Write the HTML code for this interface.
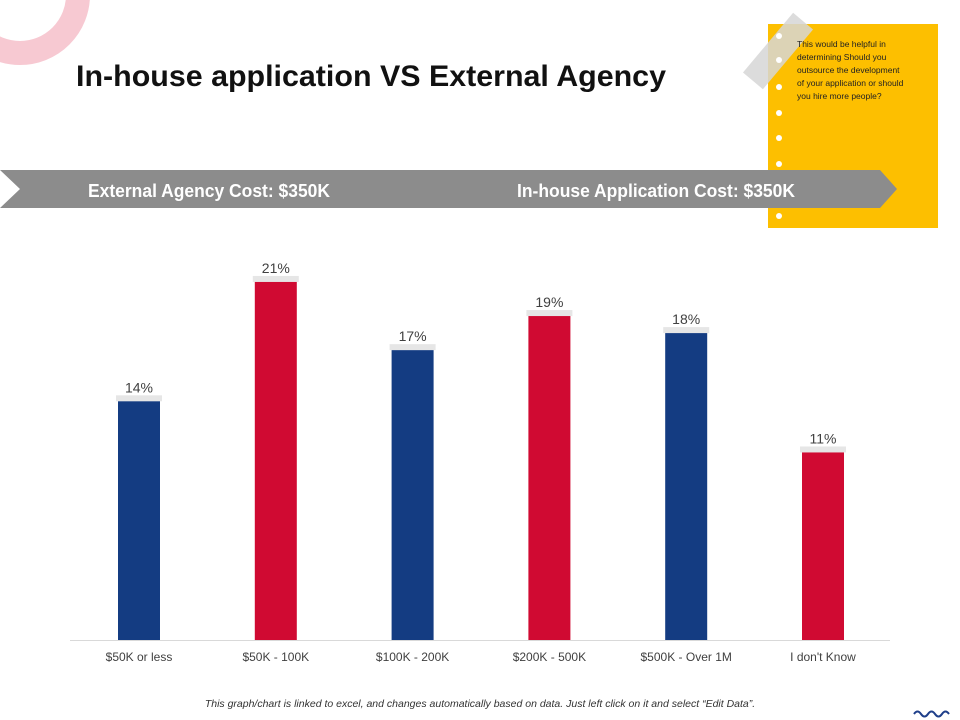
<!DOCTYPE html>
<html><head><meta charset="utf-8"><style>
body{margin:0;width:960px;height:720px;background:#fff;position:relative;overflow:hidden;font-family:"Liberation Sans",sans-serif}
</style></head><body>
<svg width="960" height="720" style="position:absolute;left:0;top:0">
<circle cx="20" cy="-5" r="58" fill="none" stroke="#f7c9d2" stroke-width="24"/>
<text x="76" y="86" font-size="30" font-weight="bold" fill="#111" textLength="590" lengthAdjust="spacingAndGlyphs">In-house application VS External Agency</text>
<g>
<rect x="768" y="24" width="170" height="204" fill="#fdbf00"/>
<rect x="765" y="12" width="26" height="78" fill="#d6d6d6" opacity="0.85" transform="rotate(40 778 51)"/>
<g fill="#fff"><circle cx="779" cy="36" r="3"/><circle cx="779" cy="60" r="3"/><circle cx="779" cy="87" r="3"/><circle cx="779" cy="113" r="3"/><circle cx="779" cy="138" r="3"/><circle cx="779" cy="164" r="3"/><circle cx="779" cy="216" r="3"/></g>
<text font-size="8.5" fill="#222">
<tspan x="797" y="47">This would be helpful in</tspan>
<tspan x="797" y="60">determining Should you</tspan>
<tspan x="797" y="73">outsource the development</tspan>
<tspan x="797" y="86">of your application or should</tspan>
<tspan x="797" y="99">you hire more people?</tspan></text>
</g>
<polygon points="0,170 880,170 897,189 880,208 0,208 20,189" fill="#8c8c8c"/>
<text x="88" y="197" font-size="18" font-weight="bold" fill="#fff" textLength="242" lengthAdjust="spacingAndGlyphs">External Agency Cost: $350K</text>
<text x="517" y="197" font-size="18" font-weight="bold" fill="#fff" textLength="278" lengthAdjust="spacingAndGlyphs">In-house Application Cost: $350K</text>
<line x1="70" y1="640.5" x2="890" y2="640.5" stroke="#d9d9d9"/>
<g id="bars"></g>
<text x="480" y="707" font-size="10.5" font-style="italic" fill="#333" text-anchor="middle">This graph/chart is linked to excel, and changes automatically based on data. Just left click on it and select “Edit Data”.</text>
<path d="M914 714 q3.5 -5 7 0 t7 0 t7 0 t7 0 t7 0" fill="none" stroke="#1f3f8a" stroke-width="2"/>
</svg>
<script>
const categories=["$50K or less","$50K - 100K","$100K - 200K","$200K - 500K","$500K - Over 1M","I don't Know"];
const values=[14,21,17,19,18,11];
const valueLabels=["14%","21%","17%","19%","18%","11%"];
const colors=["#143c82","#d00a32"];
const NS="http://www.w3.org/2000/svg";
const g=document.getElementById('bars');
function xPos(i){return 139+i*136.8;}
function yPos(v){return 640-v*17.05;}
values.forEach((v,i)=>{
 const cx=xPos(i),y=yPos(v);
 const sh=document.createElementNS(NS,'rect');
 sh.setAttribute('x',cx-23);sh.setAttribute('y',y-6);sh.setAttribute('width',46);sh.setAttribute('height',6);sh.setAttribute('fill','#e6e6e6');
 
 
 g.appendChild(sh);
 const r=document.createElementNS(NS,'rect');
 r.setAttribute('x',cx-21);r.setAttribute('y',y);r.setAttribute('width',42);r.setAttribute('height',640-y);r.setAttribute('fill',colors[i%2]);
 
 
 g.appendChild(r);
 const t=document.createElementNS(NS,'text');
 t.setAttribute('x',cx);t.setAttribute('y',y-9);t.setAttribute('text-anchor','middle');t.setAttribute('font-size','14');t.setAttribute('fill','#404040');
 t.textContent=valueLabels[i];
 
 
 g.appendChild(t);
 const c=document.createElementNS(NS,'text');
 c.setAttribute('x',cx);c.setAttribute('y',661);c.setAttribute('text-anchor','middle');c.setAttribute('font-size','12');c.setAttribute('fill','#404040');
 c.textContent=categories[i];
 
 
 g.appendChild(c);
});
</script>
</body></html>
